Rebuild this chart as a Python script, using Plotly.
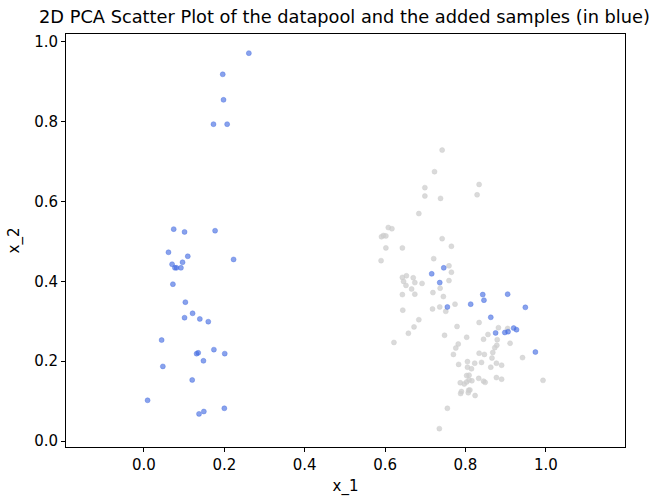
import plotly.graph_objects as go

# Data pool (gray)
pool_x = [0.742,0.723,0.699,0.699,0.738,0.834,0.829,0.684,0.608,0.617,0.591,0.596,0.602,0.742,0.765,0.602,0.643,0.590,0.721,0.759,0.765,0.759,0.643,0.653,0.646,0.670,0.674,0.652,0.666,0.692,0.737,
          0.643,0.674,0.719,0.745,0.644,0.718,0.736,0.751,0.774,0.684,0.672,0.658,0.622,0.779,0.748,0.803,0.834,0.782,0.776,0.770,0.783,0.805,0.823,0.805,0.815,0.834,0.803,0.809,0.833,0.787,0.797,0.803,0.809,0.816,0.790,0.788,0.808,0.807,0.824,0.755,0.735,
          0.882,0.905,0.856,0.845,0.879,0.911,0.878,0.873,0.868,0.847,0.942,0.866,0.840,0.877,0.890,0.863,0.845,0.849,0.877,0.890,0.993,0.811]
pool_y = [0.729,0.675,0.635,0.614,0.608,0.643,0.617,0.570,0.535,0.532,0.512,0.515,0.514,0.507,0.488,0.484,0.484,0.452,0.457,0.439,0.423,0.402,0.410,0.414,0.400,0.409,0.397,0.390,0.381,0.395,0.383,
          0.367,0.368,0.372,0.362,0.328,0.331,0.336,0.325,0.343,0.304,0.286,0.270,0.247,0.287,0.265,0.260,0.297,0.243,0.233,0.217,0.192,0.199,0.195,0.185,0.181,0.220,0.164,0.165,0.157,0.146,0.143,0.148,0.153,0.151,0.124,0.119,0.127,0.121,0.114,0.082,0.031,
          0.284,0.282,0.267,0.255,0.254,0.245,0.240,0.234,0.222,0.217,0.209,0.208,0.197,0.195,0.190,0.185,0.150,0.147,0.159,0.155,0.152,0.128]

# Added samples (blue)
added_x = [0.261,0.196,0.198,0.173,0.207,0.074,0.101,0.177,0.061,0.109,0.223,0.070,0.096,0.077,0.081,0.092,0.072,0.103,0.121,0.101,0.139,0.160,0.044,0.131,0.135,0.174,0.201,0.148,0.047,0.120,0.009,0.137,0.149,0.200,
           0.716,0.746,0.736,0.755,0.813,0.843,0.905,0.846,0.949,0.863,0.875,0.898,0.906,0.920,0.927,0.974]
added_y = [0.972,0.919,0.855,0.794,0.794,0.531,0.524,0.527,0.473,0.463,0.455,0.443,0.448,0.434,0.434,0.434,0.393,0.348,0.320,0.309,0.306,0.299,0.253,0.219,0.221,0.229,0.219,0.201,0.187,0.153,0.102,0.068,0.074,0.082,
           0.419,0.434,0.397,0.336,0.343,0.367,0.368,0.353,0.335,0.310,0.271,0.272,0.274,0.283,0.279,0.223]

tick_vals = [0.0, 0.2, 0.4, 0.6, 0.8, 1.0]

gray = "rgba(205,205,205,0.75)"
blue = "rgba(65,105,225,0.62)"

fig = go.Figure()
fig.add_trace(go.Scatter(x=pool_x, y=pool_y, mode="markers",
                         marker=dict(size=5, color=gray, line=dict(width=0.6, color=gray)),
                         showlegend=False))
fig.add_trace(go.Scatter(x=added_x, y=added_y, mode="markers",
                         marker=dict(size=5, color=blue, line=dict(width=0.6, color=blue)),
                         showlegend=False))

axis_common = dict(showline=True, mirror=True, linecolor="black", linewidth=1,
                   ticks="outside", ticklen=4, tickwidth=1, tickcolor="black",
                   showgrid=False, zeroline=False, tickformat=".1f", automargin=False,
                   tickfont=dict(size=15, color="black"))

fig.update_layout(
    width=669, height=496,
    margin=dict(l=66, r=44, t=34, b=49),
    paper_bgcolor="white", plot_bgcolor="white",
    font=dict(family="DejaVu Sans", color="black"),
    title=dict(text="2D PCA Scatter Plot of the datapool and the added samples (in blue)",
               x=344.5/669, xanchor="center", xref="container",
               y=1-17/496, yanchor="middle", yref="container",
               font=dict(size=17.8, color="black")),
    xaxis=dict(range=[-0.194, 1.197], tickvals=tick_vals,
               title=dict(text="x_1", font=dict(size=15), standoff=9), **axis_common),
    yaxis=dict(range=[-0.015, 1.02], tickvals=tick_vals,
               title=dict(text="x_2", font=dict(size=15), standoff=10), **axis_common),
)

fig.write_html("out.html")
